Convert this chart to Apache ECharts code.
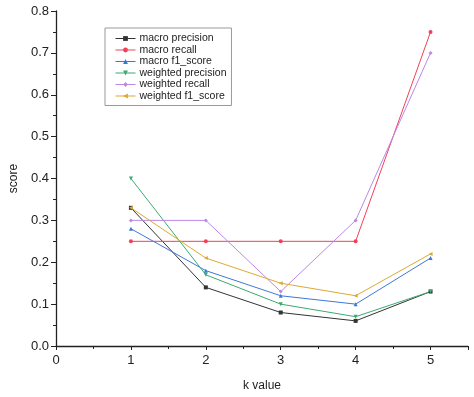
<!DOCTYPE html>
<html>
<head>
<meta charset="utf-8">
<script src="https://cdn.jsdelivr.net/npm/echarts@6/dist/echarts.min.js"></script>
<style>
  html, body { margin: 0; padding: 0; background: #fff; }
  #chart { width: 474px; height: 397px; }
</style>
</head>
<body>
<div id="chart"></div>
<script>
// k values on the x axis
const kValues = [1, 2, 3, 4, 5]

// scores
const macroPrecision = [0.33, 0.14, 0.08, 0.06, 0.13]
const macroRecall = [0.25, 0.25, 0.25, 0.25, 0.75]
const macroF1 = [0.28, 0.18, 0.12, 0.10, 0.21]
const weightedPrecision = [0.40, 0.17, 0.10, 0.07, 0.13]
const weightedRecall = [0.30, 0.30, 0.13, 0.30, 0.70]
const weightedF1 = [0.33, 0.21, 0.15, 0.12, 0.22]

const seriesNames = ['macro precision', 'macro recall', 'macro f1_score',
  'weighted precision', 'weighted recall', 'weighted f1_score']
const seriesData = [macroPrecision, macroRecall, macroF1, weightedPrecision, weightedRecall, weightedF1]
const colors = ['#333333', '#f0405a', '#3a78d8', '#3aaa70', '#bb88e6', '#dba935']
const symbols = ['rect', 'circle', 'triangle', 'path://M0,0 L10,0 L5,10 Z', 'diamond', 'path://M10,0 L10,10 L0,5 Z']

const font = 'Liberation Sans, Arial, sans-serif'
const chart = echarts.init(document.getElementById('chart'))

const option = {
  animation: false,
  color: colors,
  grid: { left: 50, right: 6, top: 11, bottom: 50 },
  legend: {
    orient: 'vertical',
    left: 105,
    top: 28,
    padding: [5, 5, 4, 10],
    itemGap: 0.5,
    itemWidth: 20,
    itemHeight: 6,
    borderColor: '#999',
    borderWidth: 1,
    lineStyle: { width: 1 },
    textStyle: { fontFamily: font, fontSize: 10.5, color: '#222', padding: [0, 0, 0, -1] },
    data: seriesNames
  },
  xAxis: {
    type: 'value',
    min: 0,
    max: 5.5,
    interval: 1,
    name: 'k value',
    nameLocation: 'middle',
    nameGap: 34,
    nameTextStyle: { fontFamily: font, fontSize: 12, color: '#222' },
    axisLine: { lineStyle: { color: '#222', width: 1.3 } },
    axisTick: { show: true, length: 4, lineStyle: { color: '#222' } },
    minorTick: { show: true, splitNumber: 2, length: 3, lineStyle: { color: '#222' } },
    splitLine: { show: false },
    axisLabel: {
      fontFamily: font, fontSize: 13, color: '#222', margin: 8,
      formatter: v => (Number.isInteger(v) ? String(v) : '')
    }
  },
  yAxis: {
    type: 'value',
    min: 0,
    max: 0.8,
    interval: 0.1,
    name: 'score',
    nameLocation: 'middle',
    nameGap: 36,
    nameTextStyle: { fontFamily: font, fontSize: 12, color: '#222' },
    axisLine: { show: true, lineStyle: { color: '#222', width: 1.3 } },
    axisTick: { show: true, length: 5, lineStyle: { color: '#222' } },
    minorTick: { show: true, splitNumber: 2, length: 3, lineStyle: { color: '#222' } },
    splitLine: { show: false },
    axisLabel: {
      fontFamily: font, fontSize: 13, color: '#222', margin: 7,
      formatter: v => v.toFixed(1)
    }
  },
  series: seriesNames.map((name, i) => ({
    name: name,
    type: 'line',
    data: kValues.map((k, j) => [k, seriesData[i][j]]),
    symbol: symbols[i],
    symbolSize: 4,
    lineStyle: { width: 1, color: colors[i] },
    itemStyle: { color: colors[i] }
  }))
}

option && chart.setOption(option)
</script>
</body>
</html>
